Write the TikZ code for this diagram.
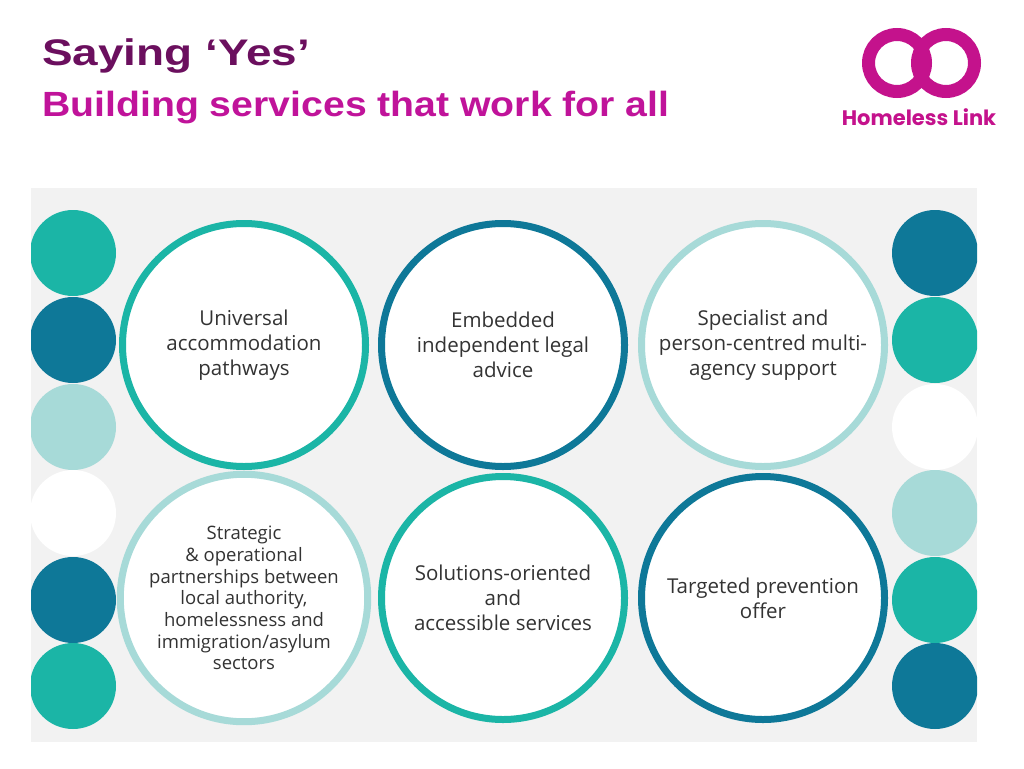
\documentclass[tikz,border=0pt]{standalone}
\usepackage{fontspec}
\setmainfont{Open Sans}
\newfontfamily\titlefont{Liberation Sans}
\newfontfamily\logofont{Poppins}
\definecolor{tealc}{HTML}{1BB5A6}
\definecolor{darkc}{HTML}{0E7898}
\definecolor{lightc}{HTML}{A7DAD8}
\definecolor{panel}{HTML}{F2F2F2}
\definecolor{purp}{HTML}{6B0F5E}
\definecolor{mag}{HTML}{C0139A}
\definecolor{logoc}{HTML}{C4128C}
\begin{document}
\begin{tikzpicture}[x=1pt,y=-1pt,
  big/.style={circle,draw=#1,line width=7pt,fill=white,minimum size=243pt,align=center,font=\fontsize{20.5}{25}\selectfont,text=black!80},
  small/.style={fill=#1}]
\useasboundingbox (0,0) rectangle (1024,768);
\fill[white] (0,0) rectangle (1024,768);
\node[anchor=base west,text=purp,font=\titlefont\bfseries\fontsize{37}{40}\selectfont,inner sep=0,xscale=1.24,transform shape] (t1) at (42,66) {Saying ‘Yes’};
\node[anchor=base west,text=mag,font=\titlefont\bfseries\fontsize{35}{40}\selectfont,inner sep=0,xscale=1.12,transform shape] (t2) at (42,116) {Building services that work for all};
% logo
\draw[logoc,line width=13pt] (897,63) circle (28.5);
\draw[logoc,line width=13pt] (946,63) circle (28.5);
\node[text=logoc,font=\logofont\bfseries\fontsize{21}{24}\selectfont,inner sep=0] (logo) at (919,117) {Homeless Link};
% panel
\fill[panel] (31,188) rectangle (977,742);
\begin{scope}
\clip (31,188) rectangle (977,742);
\foreach \y/\c in {253/tealc,340/darkc,427/lightc,513/white,600/darkc,686/tealc}
  \fill[\c] (73,\y) circle (43);
\foreach \y/\c in {253/darkc,340/tealc,427/white,513/lightc,600/tealc,686/darkc}
  \fill[\c] (935,\y) circle (43);
\end{scope}
\node[big=tealc] (a) at (244,345) {Universal\\accommodation\\pathways};
\node[big=darkc] (b) at (503,345) {Embedded\\independent legal\\advice};
\node[big=lightc] (c) at (763,345) {Specialist and\\person-centred multi-\\agency support};
\node[big=lightc,font=\fontsize{18.5}{21.7}\selectfont] (d) at (244,598) {Strategic\\\& operational\\partnerships between\\local authority,\\homelessness and\\immigration/asylum\\sectors};
\node[big=tealc] (e) at (503,598) {Solutions-oriented\\and\\accessible services};
\node[big=darkc] (f) at (763,598) {Targeted prevention\\offer};
\end{tikzpicture}
\end{document}
